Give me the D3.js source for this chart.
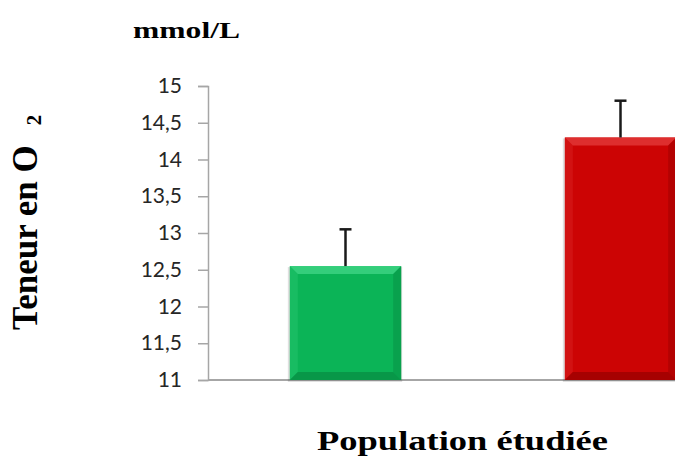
<!DOCTYPE html>
<html>
<head>
<meta charset="utf-8">
<script src="https://cdn.jsdelivr.net/npm/d3@7"></script>
<style>
  body { margin: 0; background: #fff; }
  svg { display: block; }
  .axis path, .axis line { stroke: #a6a6a6; stroke-width: 1.5; }
  .axis text { font-family: Lato, "Open Sans", sans-serif; font-size: 21px; fill: #262626; }
  .titre { font-family: "Liberation Serif", "Times New Roman", serif; font-weight: bold; fill: #000; }
</style>
</head>
<body>
<svg width="675" height="461"></svg>
<script>
// donnees
var groupes = ["Groupe 1", "Groupe 2"]
var moyennes = [12.55, 14.3]
var erreurs = [0.5, 0.5]
var couleurs = ["#0bb457", "#cc0404"]
var bevelHaut = ["#3fd585", "#e23a3a"]
var bevelBas = ["#078a42", "#960000"]
var ticksY = [11, 11.5, 12, 12.5, 13, 13.5, 14, 14.5, 15]

var svg = d3.select("svg"),
    margin = {top: 86, right: -83, bottom: 81, left: 208},
    width = +svg.attr("width") - margin.left - margin.right,
    height = +svg.attr("height") - margin.top - margin.bottom,
    g = svg.append("g").attr("transform", "translate(" + margin.left + "," + margin.top + ")")

var x = d3.scaleBand().domain(groupes).range([0, width]).padding(0)
var y = d3.scaleLinear().domain([11, 15]).range([height, 0])

var fmt = function (d) { return String(d).replace(".", ",") }

// axe y
var yAxis = g.append("g")
    .attr("class", "axis")
    .call(d3.axisLeft(y).tickValues(ticksY).tickFormat(fmt).tickSize(10).tickSizeOuter(10).tickPadding(16))

// axe x (ligne seule)
g.append("line")
    .attr("class", "axis")
    .attr("x1", 0).attr("x2", width)
    .attr("y1", y(11)).attr("y2", y(11))
    .style("stroke", "#a6a6a6").style("stroke-width", 2)

var bw = x.bandwidth() * 0.405
var bev = 8

var barres = g.selectAll(".barre")
  .data(groupes.map(function (d, i) { return {k: d, v: moyennes[i], e: erreurs[i], i: i} }))
  .enter().append("g")
    .attr("class", "barre")
    .attr("transform", function (d) { return "translate(" + (x(d.k) + (x.bandwidth() - bw) / 2) + ",0)" })

// ombre
barres.append("rect")
    .attr("x", -2).attr("y", function (d) { return y(d.v) + 1 })
    .attr("width", bw + 3).attr("height", function (d) { return y(11) - y(d.v) + 1 })
    .attr("fill", "#000").attr("opacity", 0.12)

barres.append("rect")
    .attr("x", 0).attr("y", function (d) { return y(d.v) })
    .attr("width", bw).attr("height", function (d) { return y(11) - y(d.v) })
    .attr("fill", function (d) { return couleurs[d.i] })

// biseau haut
barres.append("polygon")
    .attr("points", function (d) {
      var t = y(d.v)
      return [[0, t], [bw, t], [bw - bev, t + bev], [bev, t + bev]].join(" ")
    })
    .attr("fill", function (d) { return bevelHaut[d.i] }).attr("opacity", 0.8)

// biseau gauche
barres.append("polygon")
    .attr("points", function (d) {
      var t = y(d.v), b = y(11)
      return [[0, t], [bev, t + bev], [bev, b - bev], [0, b]].join(" ")
    })
    .attr("fill", function (d) { return bevelHaut[d.i] }).attr("opacity", 0.25)

// biseau droit
barres.append("polygon")
    .attr("points", function (d) {
      var t = y(d.v), b = y(11)
      return [[bw, t], [bw - bev, t + bev], [bw - bev, b - bev], [bw, b]].join(" ")
    })
    .attr("fill", function (d) { return bevelBas[d.i] }).attr("opacity", 0.45)

// biseau bas
barres.append("polygon")
    .attr("points", function (d) {
      var b = y(11)
      return [[0, b], [bev, b - bev], [bw - bev, b - bev], [bw, b]].join(" ")
    })
    .attr("fill", function (d) { return bevelBas[d.i] }).attr("opacity", 0.7)

// barres d'erreur
barres.append("line")
    .attr("x1", bw / 2).attr("x2", bw / 2)
    .attr("y1", function (d) { return y(d.v) })
    .attr("y2", function (d) { return y(d.v + d.e) })
    .attr("stroke", "#1a1a1a").attr("stroke-width", 2.5)

barres.append("line")
    .attr("x1", bw / 2 - 6).attr("x2", bw / 2 + 6)
    .attr("y1", function (d) { return y(d.v + d.e) })
    .attr("y2", function (d) { return y(d.v + d.e) })
    .attr("stroke", "#1a1a1a").attr("stroke-width", 2.5)

// titres
svg.append("text")
    .attr("class", "titre")
    .attr("x", 133).attr("y", 38)
    .attr("font-size", 23)
    .attr("textLength", 107).attr("lengthAdjust", "spacingAndGlyphs")
    .text("mmol/L")

svg.append("text")
    .attr("class", "titre")
    .attr("x", 317).attr("y", 450)
    .attr("font-size", 28)
    .attr("textLength", 291).attr("lengthAdjust", "spacingAndGlyphs")
    .text("Population étudiée")

var ty = svg.append("text")
    .attr("class", "titre")
    .attr("transform", "translate(37,330) rotate(-90)")
    .attr("font-size", 35)
ty.append("tspan").text("Teneur en O")
ty.append("tspan").attr("font-size", 21).attr("dx", 20).attr("dy", 4).text("2")
</script>
</body>
</html>
